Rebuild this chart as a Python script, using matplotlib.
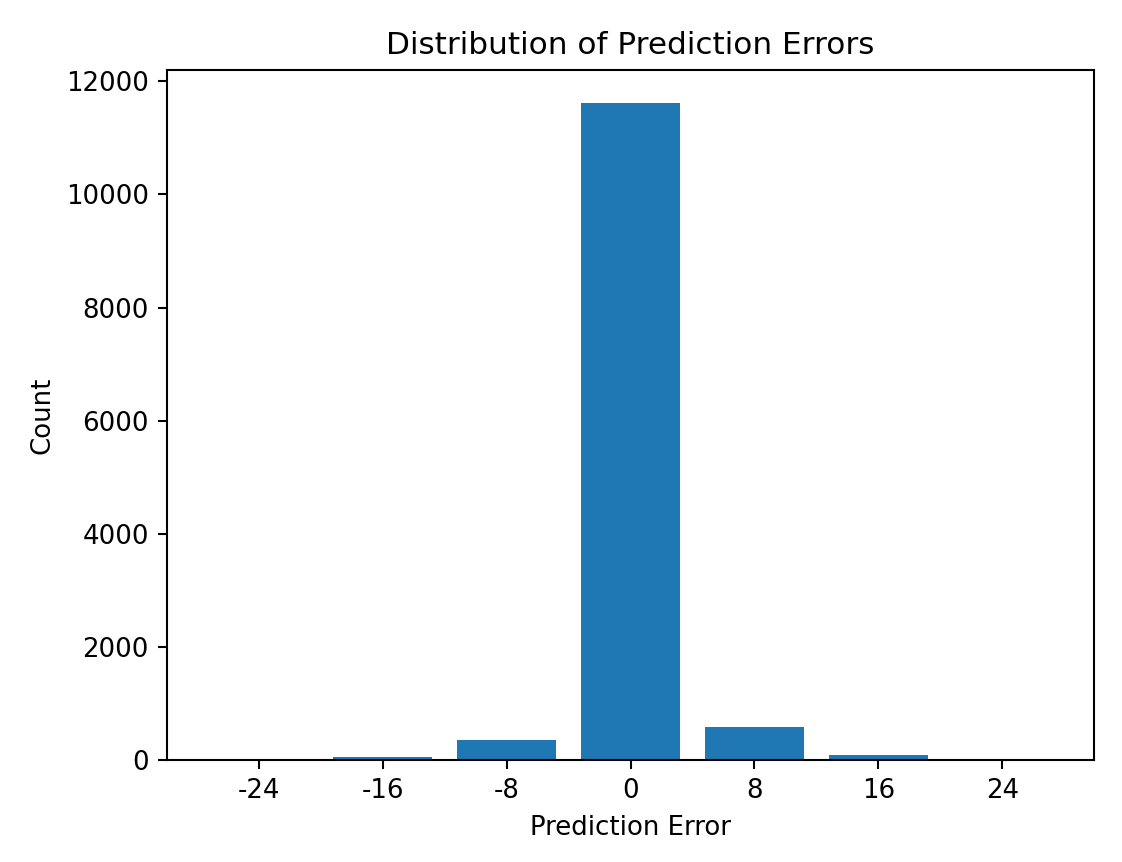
import matplotlib
matplotlib.use("Agg")
import matplotlib.pyplot as plt

errors = [-24, -16, -8, 0, 8, 16, 24]
counts = [3, 45, 350, 11620, 580, 80, 25]
tick_labels = ["-24", "-16", "-8", "0", "8", "16", "24"]

dpi = 187
fig = plt.figure(figsize=(1122 / dpi, 862 / dpi), dpi=dpi)
ax = fig.add_axes([167 / 1122, 1 - 760 / 862, (1094 - 167) / 1122, (760 - 70) / 862])
ax.bar(errors, counts, width=6.4, color="#1f77b4")
ax.set_xticks(errors)
ax.set_xticklabels(tick_labels)
ax.set_xlabel("Prediction Error")
ax.set_ylabel("Count")
ax.set_title("Distribution of Prediction Errors")
fig.savefig("out.png", dpi=dpi)
